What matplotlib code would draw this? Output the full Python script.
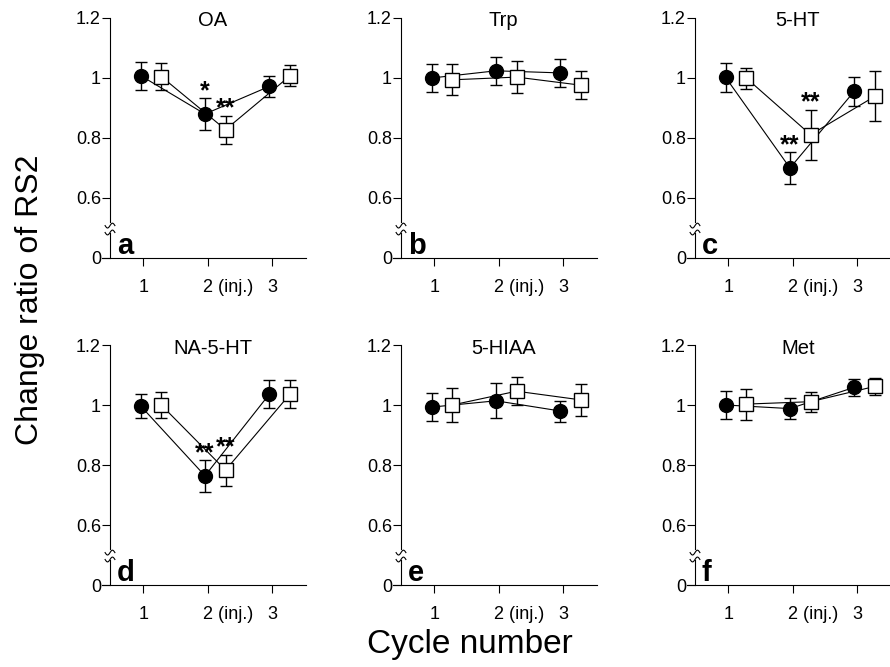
import numpy as np
import matplotlib
matplotlib.use("Agg")
import matplotlib.pyplot as plt

plt.rcParams['font.family'] = ['Liberation Sans', 'DejaVu Sans']

cycles = [1, 2, 3]
panel_titles = ["OA", "Trp", "5-HT", "NA-5-HT", "5-HIAA", "Met"]
panel_letters = ["a", "b", "c", "d", "e", "f"]

circ_oa = [1.008, 0.880, 0.972]
circ_oa_err = [0.047, 0.053, 0.035]
sq_oa = [1.005, 0.828, 1.007]
sq_oa_err = [0.046, 0.047, 0.035]

circ_trp = [1.000, 1.024, 1.017]
circ_trp_err = [0.047, 0.047, 0.046]
sq_trp = [0.994, 1.003, 0.976]
sq_trp_err = [0.052, 0.053, 0.047]

circ_5ht = [1.002, 0.700, 0.956]
circ_5ht_err = [0.047, 0.053, 0.049]
sq_5ht = [1.000, 0.811, 0.939]
sq_5ht_err = [0.035, 0.083, 0.083]

circ_na5ht = [0.997, 0.764, 1.036]
circ_na5ht_err = [0.041, 0.053, 0.046]
sq_na5ht = [1.000, 0.783, 1.036]
sq_na5ht_err = [0.042, 0.052, 0.046]

circ_5hiaa = [0.993, 1.014, 0.980]
circ_5hiaa_err = [0.046, 0.058, 0.035]
sq_5hiaa = [1.000, 1.046, 1.017]
sq_5hiaa_err = [0.058, 0.047, 0.052]

circ_met = [1.000, 0.988, 1.059]
circ_met_err = [0.046, 0.035, 0.029]
sq_met = [1.003, 1.011, 1.062]
sq_met_err = [0.052, 0.034, 0.028]

circ_stars = [["", "*", ""], ["", "", ""], ["", "**", ""],
              ["", "**", ""], ["", "", ""], ["", "", ""]]
sq_stars = [["", "**", ""], ["", "", ""], ["", "**", ""],
            ["", "**", ""], ["", "", ""], ["", "", ""]]

circ_all = [circ_oa, circ_trp, circ_5ht, circ_na5ht, circ_5hiaa, circ_met]
circ_err_all = [circ_oa_err, circ_trp_err, circ_5ht_err, circ_na5ht_err, circ_5hiaa_err, circ_met_err]
sq_all = [sq_oa, sq_trp, sq_5ht, sq_na5ht, sq_5hiaa, sq_met]
sq_err_all = [sq_oa_err, sq_trp_err, sq_5ht_err, sq_na5ht_err, sq_5hiaa_err, sq_met_err]

W, H = 890, 667
fig = plt.figure(figsize=(W / 100, H / 100), dpi=100)

col_left = [102, 393, 687]
row_bottom = [258, 585]
ax_w, ax_h = 204, 240

circ_off = -0.04
sq_off = 0.28
lw = 0.8
spine_x = 8 / ax_w  # axes fraction

for i in range(6):
    r, c = divmod(i, 3)
    left = col_left[c] / W
    bottom = (H - row_bottom[r]) / H
    ax = fig.add_axes([left, bottom, ax_w / W, ax_h / H])
    ax.set_xlim(0.36, 3.53)
    ax.set_ylim(0.4, 1.2)
    ax.patch.set_alpha(0)

    xc = np.array(cycles) + circ_off
    xs = np.array(cycles) + sq_off

    # lines
    ax.plot(xc, circ_all[i], color='black', lw=lw, zorder=2)
    ax.plot(xs, sq_all[i], color='black', lw=lw, zorder=2)
    # error bars
    ax.errorbar(xc, circ_all[i], yerr=circ_err_all[i], fmt='none', ecolor='black',
                elinewidth=1.0, capsize=4.3, capthick=1.0, zorder=1)
    ax.errorbar(xs, sq_all[i], yerr=sq_err_all[i], fmt='none', ecolor='black',
                elinewidth=1.0, capsize=4.3, capthick=1.0, zorder=1)
    # markers
    ax.plot(xc, circ_all[i], 'o', ms=10, mfc='black', mec='black', zorder=4, clip_on=False)
    ax.plot(xs, sq_all[i], 's', ms=10, mfc='white', mec='black', mew=1.0, zorder=4, clip_on=False)

    # significance stars
    for j in range(3):
        if circ_stars[i][j]:
            ax.annotate(circ_stars[i][j], xy=(xc[j], circ_all[i][j] + circ_err_all[i][j]),
                        xytext=(0, 0), textcoords='offset points', ha='center',
                        va='baseline', fontsize=18, fontweight='bold', zorder=5)
        if sq_stars[i][j]:
            ax.annotate(sq_stars[i][j], xy=(xs[j], sq_all[i][j] + sq_err_all[i][j]),
                        xytext=(0, 0), textcoords='offset points', ha='center',
                        va='baseline', fontsize=18, fontweight='bold', zorder=5)

    # spines
    for s in ['top', 'right']:
        ax.spines[s].set_visible(False)
    ax.spines['bottom'].set_linewidth(lw)
    ax.spines['left'].set_linewidth(lw)
    ax.spines['left'].set_position(('axes', spine_x))
    ax.spines['left'].set_bounds(0.52, 1.2)
    yt = ax.get_yaxis_transform()
    ax.plot([spine_x, spine_x], [0.4, 0.482], color='black', lw=lw, transform=yt, clip_on=False)
    tt = np.linspace(-1, 1, 30)
    for yb in [0.508, 0.485]:
        ax.plot(spine_x + tt * 0.024, yb + 0.008 * np.sin(tt * np.pi), color='black',
                lw=lw, transform=yt, clip_on=False)

    # ticks
    ax.set_yticks([0.4, 0.6, 0.8, 1.0, 1.2])
    ax.set_yticklabels(['0', '0.6', '0.8', '1', '1.2'])
    ax.set_xticks(cycles)
    ax.set_xticklabels(['1', '', '3'])
    ax.tick_params(axis='both', direction='out', length=5.5, width=lw, labelsize=13)
    ax.tick_params(axis='y', pad=1)
    ax.tick_params(axis='x', pad=9.5)
    ax.annotate('2 (inj.)', xy=(2, 0), xycoords=('data', 'axes fraction'),
                xytext=(-3.6, -15), textcoords='offset points', ha='left', va='top',
                fontsize=13)

    # title and letter
    ax.text(2.08, 1.19, panel_titles[i], ha='center', va='center', fontsize=14.5)
    ax.annotate(panel_letters[i], xy=(spine_x, 0.4), xycoords=yt, xytext=(5, 3),
                textcoords='offset points', ha='left', va='baseline', fontsize=21,
                fontweight='bold')

fig.text(30 / W, 1 - 300 / H, 'Change ratio of RS2', rotation=90, ha='center',
         va='center', fontsize=23)
fig.text(470 / W, 1 - 644 / H, 'Cycle number', ha='center', va='center', fontsize=24)

fig.savefig('out.png', dpi=100)
